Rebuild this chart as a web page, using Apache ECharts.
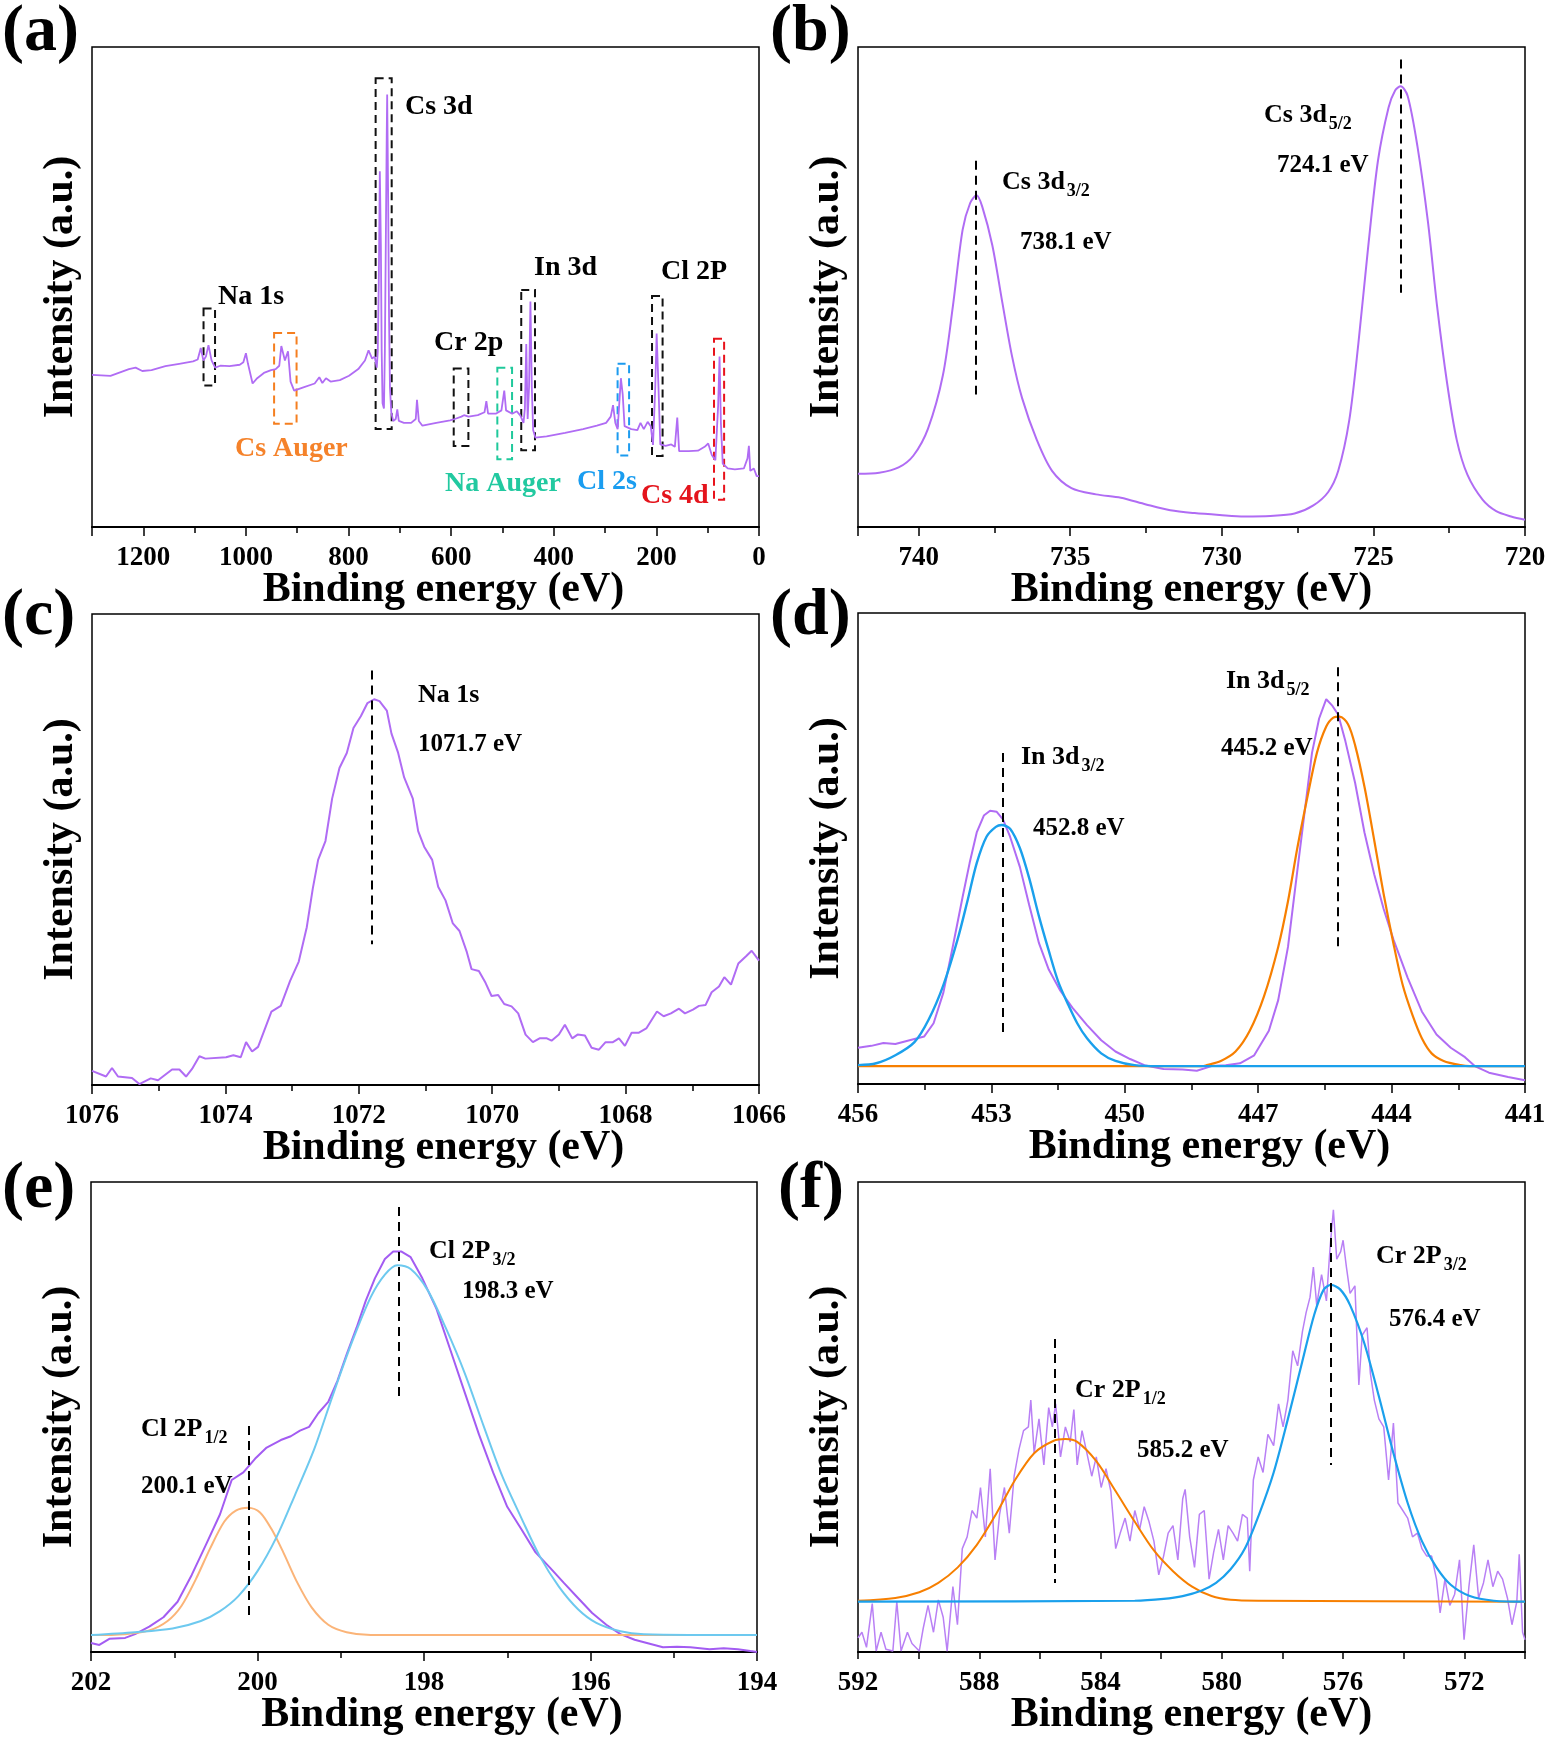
<!DOCTYPE html>
<html>
<head>
<meta charset="utf-8">
<script src="https://cdn.jsdelivr.net/npm/echarts@6/dist/echarts.min.js"></script>
<style>
  html, body { margin: 0; padding: 0; background: #fff; }
  #chart { width: 1550px; height: 1737px; }
</style>
</head>
<body>
<div id="chart"></div>
<script>
// ---- data: [binding energy (eV), intensity (% of frame height)] ----
const surveyA = [[1300,31.7],[1264,31.5],[1228,32.9],[1215,33.2],[1202,32.5],[1184,32.7],[1157,33.5],[1130,34.0],[1103,34.5],[1094,34.9],[1088,37.3],[1083,34.7],[1078,35.5],[1073,37.9],[1067,34.7],[1060,33.2],[1050,33.6],[1032,33.5],[1012,33.8],[1005,34.3],[1000,36.2],[996,34.0],[987,29.9],[978,31.0],[965,32.1],[951,32.7],[942,32.9],[935,33.6],[931,37.7],[924,34.7],[918,36.6],[913,30.3],[906,28.4],[888,29.1],[866,29.9],[857,31.2],[851,30.0],[844,31.0],[835,30.3],[817,30.6],[799,31.5],[781,32.9],[768,34.7],[761,36.8],[754,35.1],[749,35.5],[745,33.2],[743,36.6],[741,51.4],[739,74.1],[737,58.9],[735.4,36.6],[733.7,25.8],[731,24.7],[729.2,36.6],[727.4,58.9],[725.6,81.2],[724.7,90.1],[722.9,70.0],[721.1,44.0],[719.3,29.1],[716.7,23.9],[713,22.1],[708,22.5],[705,24.5],[702,22.1],[692,21.7],[678,21.7],[669,22.5],[666.6,26.5],[663,22.1],[656,21.1],[629,21.7],[602,22.2],[593,22.5],[580,23.0],[575,23.3],[566,23.0],[548,23.3],[535,23.9],[531.4,26.2],[528,23.6],[513,23.6],[502,24.3],[496.5,28.4],[493,24.3],[481,23.6],[472,24.1],[465,23.2],[459,21.7],[456.3,24.7],[453.6,38.1],[450.9,22.5],[448.2,29.1],[445.5,47.0],[442.8,29.1],[440.2,20.2],[435.7,18.6],[414,18.9],[378,19.6],[343,20.4],[316,21.1],[298,21.7],[289,23.0],[284.5,25.4],[280,21.7],[275.5,20.4],[269.2,31.0],[265.7,27.7],[262,21.0],[249,20.4],[237,20.2],[231,21.7],[224.5,20.4],[217,21.9],[211,21.0],[206.6,17.1],[202.2,29.1],[199.5,40.3],[195.9,29.1],[192.4,17.2],[182,16.9],[171,17.2],[164,16.7],[159.3,22.8],[155.7,15.8],[137,15.8],[119,15.9],[106,16.7],[99,17.4],[92,15.0],[85,13.9],[79.6,25.4],[76.9,35.5],[74.3,21.7],[70.7,13.2],[61,12.2],[47,12.0],[29.5,12.2],[22.4,14.3],[19.7,16.9],[17,11.7],[10,12.2],[4.5,10.6],[0,10.6]];

// survey boxes: [eV from, top, eV to, bottom]
const boxesA = [[1082.6,45.5,1060.2,29.5],[945.1,40.4,901.3,21.5],[747.2,93.5,715.9,20.4],[595.0,33.0,566.4,16.9],[510.0,33.2,481.3,14.1],[463.4,49.4,436.6,16.0],[275.6,34.0,253.2,14.9],[208.5,48.1,187.9,14.8],[87.7,39.2,68.0,5.7]];

const cs3dB = [[742,11.1],[741.3,11.3],[740.66,12.4],[740.17,14.9],[739.69,20.5],[739.2,31.6],[738.87,46.0],[738.55,61.9],[738.3,67.5],[738.09,69.1],[737.9,66.7],[737.57,58.7],[737.24,46.8],[736.92,35.6],[736.59,26.9],[736.1,18.1],[735.6,11.7],[734.96,8.1],[734.15,6.8],[733.33,6.1],[732.5,4.7],[731.7,3.5],[730.9,2.9],[730.07,2.5],[729.26,2.2],[728.4,2.3],[727.6,2.8],[726.98,4.5],[726.49,7.3],[726.16,11.7],[725.8,22.1],[725.5,38.0],[725.18,57.9],[724.85,76.3],[724.5,87.4],[724.28,91.0],[724.1,91.8],[723.87,89.8],[723.55,79.4],[723.2,63.5],[722.9,46.0],[722.57,30.0],[722.25,18.1],[721.9,10.9],[721.4,5.7],[720.95,3.3],[720.46,2.2],[720,1.5]];

const na1sC = [[1076,3.0],[1075.79,1.8],[1075.70,3.6],[1075.61,1.8],[1075.40,1.5],[1075.29,0.2],[1075.12,1.4],[1075.01,1.0],[1074.80,3.3],[1074.69,3.3],[1074.59,1.8],[1074.50,3.4],[1074.39,6.1],[1074.30,5.6],[1073.99,5.9],[1073.88,6.3],[1073.77,5.9],[1073.69,9.1],[1073.60,7.1],[1073.51,8.1],[1073.31,15.6],[1073.17,16.8],[1073.03,22.1],[1072.90,26.2],[1072.78,33.5],[1072.69,41.7],[1072.61,47.8],[1072.50,51.8],[1072.40,60.8],[1072.29,67.3],[1072.18,70.5],[1072.08,75.8],[1071.97,78.3],[1071.87,81.1],[1071.77,81.9],[1071.69,81.5],[1071.58,79.5],[1071.51,74.6],[1071.41,70.5],[1071.32,65.3],[1071.19,60.8],[1071.11,53.9],[1071.02,50.6],[1070.90,47.8],[1070.81,42.1],[1070.70,39.2],[1070.59,34.3],[1070.49,32.7],[1070.38,28.2],[1070.31,24.6],[1070.20,24.2],[1070.10,21.7],[1070.01,18.9],[1069.91,19.1],[1069.82,17.2],[1069.71,16.7],[1069.61,15.2],[1069.50,10.7],[1069.39,9.1],[1069.29,9.9],[1069.18,9.9],[1069.11,9.4],[1069.00,10.7],[1068.91,12.8],[1068.80,9.9],[1068.72,10.7],[1068.61,10.5],[1068.51,7.9],[1068.40,7.5],[1068.30,9.1],[1068.19,9.1],[1068.10,9.9],[1068.01,8.3],[1067.91,11.1],[1067.80,11.1],[1067.69,12.0],[1067.53,15.6],[1067.43,14.6],[1067.32,15.2],[1067.20,16.2],[1067.11,15.2],[1066.99,16.0],[1066.90,16.8],[1066.80,17.0],[1066.71,19.7],[1066.60,20.9],[1066.52,22.9],[1066.42,21.3],[1066.31,25.8],[1066.19,27.4],[1066.11,28.5],[1066.00,26.4]];

const in3dRawD = [[456,7.7],[455.70,8.1],[455.43,8.7],[455.16,8.5],[454.84,9.3],[454.51,10.1],[454.30,12.9],[454.08,19.4],[453.87,29.1],[453.65,39.6],[453.49,46.9],[453.33,53.4],[453.17,57.0],[453.03,58.0],[452.88,57.8],[452.74,56.2],[452.58,52.5],[452.36,46.1],[452.15,38.0],[451.93,29.9],[451.71,24.3],[451.45,19.8],[451.18,16.2],[450.85,12.5],[450.53,9.3],[450.21,6.9],[449.88,5.3],[449.56,4.0],[449.13,3.2],[448.70,3.1],[448.38,2.8],[448.05,3.8],[447.73,4.0],[447.41,4.4],[447.09,6.1],[446.76,11.3],[446.55,17.8],[446.33,29.1],[446.12,45.3],[445.95,58.2],[445.79,70.3],[445.63,77.6],[445.47,81.7],[445.34,80.4],[445.20,78.4],[445.04,72.8],[444.82,63.9],[444.61,53.4],[444.39,44.5],[444.18,37.2],[443.96,30.7],[443.64,22.6],[443.32,15.4],[442.99,10.5],[442.67,7.7],[442.35,5.7],[442.13,3.8],[441.81,2.4],[441.38,1.5],[441,0.8]];
const in3d32FitD = [[456,4.0],[455.59,4.4],[455.16,6.1],[454.73,8.9],[454.41,13.7],[454.08,21.0],[453.76,30.7],[453.54,38.8],[453.33,46.9],[453.11,52.5],[452.90,54.6],[452.77,55.0],[452.58,54.2],[452.36,50.1],[452.15,43.7],[451.93,35.6],[451.71,28.3],[451.50,21.8],[451.28,17.0],[451.07,12.9],[450.85,9.7],[450.53,6.5],[450.21,4.9],[449.78,4.0],[449.24,3.8],[441,3.8]];
const in3d52FitD = [[456,3.8],[448.27,3.8],[448.16,4.0],[447.84,4.9],[447.51,6.9],[447.19,11.3],[446.87,18.6],[446.55,29.1],[446.33,38.8],[446.12,50.1],[445.90,60.6],[445.68,70.3],[445.47,75.9],[445.31,77.8],[445.17,78.0],[444.98,76.4],[444.82,71.9],[444.61,63.1],[444.39,51.7],[444.18,40.4],[443.96,29.9],[443.75,21.0],[443.53,14.6],[443.32,9.7],[443.10,6.5],[442.83,4.9],[442.45,4.0],[442.24,3.8],[441,3.8]];

const cl2pRawE = [[202,1.9],[201.90,1.5],[201.78,2.8],[201.59,3.0],[201.47,3.8],[201.30,5.4],[201.13,7.4],[200.96,10.7],[200.79,16.4],[200.62,22.8],[200.45,29.3],[200.31,36.6],[200.17,38.2],[200.03,41.1],[199.89,43.5],[199.72,45.1],[199.60,45.9],[199.49,47.1],[199.38,47.9],[199.27,50.8],[199.15,53.2],[199.04,57.7],[198.93,63.3],[198.81,69.0],[198.70,74.7],[198.59,79.5],[198.47,83.6],[198.37,85.2],[198.27,85.2],[198.16,84.0],[198.02,79.5],[197.85,73.0],[197.68,64.1],[197.51,55.2],[197.34,46.3],[197.17,38.2],[197.00,30.9],[196.83,26.1],[196.66,21.2],[196.49,18.0],[196.32,14.7],[196.15,11.5],[195.98,8.3],[195.81,5.8],[195.64,3.8],[195.47,2.6],[195.30,1.8],[195.13,1.0],[194.96,1.1],[194.80,1.0],[194.57,0.6],[194.40,0.8],[194.23,0.6],[194.08,0.2],[194,0]];
const cl2p12FitE = [[202,3.6],[201.59,3.8],[201.30,4.6],[201.08,6.6],[200.91,9.9],[200.74,15.5],[200.57,22.0],[200.40,27.7],[200.26,30.1],[200.11,30.7],[199.97,29.7],[199.83,26.1],[199.69,21.2],[199.52,14.7],[199.35,9.5],[199.15,5.8],[198.93,4.2],[198.64,3.6],[194,3.6]];
const cl2p32FitE = [[202,3.6],[201.47,4.2],[201.02,5.0],[200.68,6.6],[200.45,8.7],[200.23,11.9],[200.00,17.2],[199.77,24.5],[199.55,33.4],[199.32,43.1],[199.10,54.4],[198.87,65.7],[198.64,75.5],[198.47,80.3],[198.32,82.3],[198.16,81.5],[197.96,77.1],[197.74,69.0],[197.51,59.3],[197.28,47.9],[197.06,37.4],[196.83,28.5],[196.61,20.4],[196.38,13.9],[196.15,9.1],[195.93,6.2],[195.64,4.4],[195.36,3.8],[194,3.6]];

const cr2pRawF = [[592,3.0],[591.87,4.2],[591.72,1.0],[591.53,10.3],[591.40,0.2],[591.24,4.2],[591.08,0.6],[590.85,0.2],[590.72,10.7],[590.58,0.2],[590.37,4.2],[590.22,1.8],[589.98,0.2],[589.85,5.0],[589.69,9.9],[589.51,4.2],[589.35,11.1],[589.19,7.4],[589.06,0.2],[588.87,13.9],[588.72,5.8],[588.56,22.0],[588.40,24.5],[588.24,30.1],[588.08,28.5],[587.96,35.0],[587.80,24.5],[587.64,39.0],[587.48,19.6],[587.33,29.3],[587.17,35.0],[587.01,25.3],[586.85,37.4],[586.69,43.1],[586.54,47.1],[586.38,47.9],[586.30,53.6],[586.19,42.3],[586.03,49.6],[585.87,39.8],[585.71,52.0],[585.59,47.9],[585.48,52.8],[585.32,41.5],[585.16,47.9],[585.00,44.7],[584.88,51.6],[584.77,39.8],[584.61,47.1],[584.45,42.3],[584.29,37.4],[584.14,41.5],[583.98,35.0],[583.82,39.0],[583.66,34.2],[583.50,22.0],[583.35,25.3],[583.19,28.5],[583.03,23.6],[582.87,30.1],[582.71,26.1],[582.56,30.9],[582.40,27.7],[582.24,23.6],[582.08,16.4],[581.92,20.4],[581.77,25.3],[581.61,26.9],[581.45,19.6],[581.29,32.6],[581.21,34.6],[581.06,24.5],[580.90,18.0],[580.74,29.3],[580.58,30.1],[580.42,15.5],[580.27,21.2],[580.11,26.1],[579.95,19.6],[579.79,26.9],[579.63,25.3],[579.48,23.6],[579.32,29.3],[579.16,28.5],[579.08,17.2],[578.96,36.6],[578.80,41.5],[578.64,38.2],[578.48,46.3],[578.29,43.9],[578.13,52.8],[577.98,47.9],[577.82,53.6],[577.66,64.1],[577.50,60.9],[577.34,68.2],[577.22,72.2],[577.09,75.5],[576.98,81.9],[576.87,73.8],[576.71,80.3],[576.55,74.7],[576.43,86.0],[576.32,94.1],[576.21,83.6],[576.08,85.2],[576.00,87.6],[575.89,81.9],[575.77,76.3],[575.61,77.9],[575.48,56.8],[575.37,67.4],[575.21,69.0],[575.10,59.3],[574.97,53.6],[574.82,49.6],[574.66,47.9],[574.50,36.6],[574.34,48.7],[574.19,31.7],[574.03,30.1],[573.87,28.5],[573.71,24.5],[573.55,25.3],[573.40,22.0],[573.24,20.4],[573.08,20.4],[572.92,15.5],[572.80,8.3],[572.64,15.5],[572.48,9.9],[572.32,12.3],[572.16,19.6],[572.01,2.6],[571.85,13.9],[571.69,22.8],[571.53,11.5],[571.37,14.7],[571.22,19.6],[571.06,13.9],[570.90,17.2],[570.74,15.5],[570.58,11.5],[570.43,5.8],[570.27,10.7],[570.19,20.8],[570.08,4.2],[570.00,2.6]];
const cr2p12FitF = [[592,10.9],[590.77,11.5],[589.98,12.7],[589.35,14.7],[588.71,18.0],[588.08,22.8],[587.45,29.3],[586.82,36.6],[586.19,42.3],[585.56,44.9],[585.16,45.3],[584.77,44.7],[584.14,40.6],[583.50,34.2],[582.87,27.7],[582.24,21.6],[581.61,17.2],[580.98,13.9],[580.34,11.9],[579.71,11.1],[578.77,10.9],[570,10.7]];
const cr2p32FitF = [[592,10.7],[582.87,10.9],[581.92,11.3],[581.29,11.9],[580.66,13.1],[580.19,14.7],[579.71,17.6],[579.24,22.0],[578.77,29.3],[578.29,38.2],[577.82,49.6],[577.35,61.7],[576.95,71.8],[576.64,77.1],[576.40,78.1],[576.09,77.1],[575.77,73.8],[575.30,65.7],[574.82,54.4],[574.34,42.3],[573.87,31.7],[573.40,23.6],[572.92,18.0],[572.45,14.3],[571.82,11.9],[571.03,10.9],[570,10.7]];

// dashed peak markers: [eV, top, bottom]
const peaksB = [[738.1,76.3,27.6],[724.1,97.4,48.8]];
const peaksC = [[1071.8,88.0,29.9]];
const peaksD = [[452.75,70.3,10.9],[445.2,88.5,28.7]];
const peaksE = [[198.3,94.7,53.8],[200.1,48.1,7.4]];
const peaksF = [[585.5,66.6,14.7],[576.4,91.3,39.8]];

// x axes: [min, max, tick step, minor ticks per step]
const axesX = [[0,1300,200,2],[720,742,5,2],[1066,1076,2,2],[441,456,3,2],[194,202,2,2],[570,592,2,1]];

const FONT = '"Liberation Serif","Times New Roman",serif';
const PURPLE = '#b06cf4';

const chart = echarts.init(document.getElementById('chart'), null, { renderer: 'canvas' });

const grids = [
  { left: 92, top: 47, width: 667, height: 480 },
  { left: 858, top: 47, width: 667, height: 480 },
  { left: 92, top: 614, width: 667, height: 471 },
  { left: 858, top: 613, width: 667, height: 471 },
  { left: 91, top: 1182, width: 666, height: 472 },
  { left: 858, top: 1182, width: 667, height: 472 }
];
const nameShift = [18, 0, 18, 18, 18, 0];

// panel (f) labels only every 4 eV, ticks every 2 eV
const labelEvery = [200, 5, 2, 3, 2, 4];

function isMult(v, s) {
  const q = v / s;
  return Math.abs(q - Math.round(q)) < 1e-6;
}

const xAxes = axesX.map((a, i) => ({
  type: 'value', gridIndex: i, min: a[0], max: a[1], interval: a[2], inverse: true,
  name: 'Binding energy (eV)', nameLocation: 'middle', nameGap: 42, nameMoveOverlap: false,
  nameTextStyle: { fontSize: 42, fontWeight: 'bold', fontFamily: FONT, color: '#000', padding: [0, 0, 0, nameShift[i] * 2] },
  axisLine: { onZero: false, lineStyle: { color: '#000', width: 2 } },
  axisTick: { length: a[3] > 1 ? 9 : 7, lineStyle: { color: '#000', width: 1.5 } },
  minorTick: { show: a[3] > 1, splitNumber: a[3], length: 6, lineStyle: { color: '#000', width: 1.5 } },
  axisLabel: {
    margin: 18, fontSize: 27, fontWeight: 'bold', fontFamily: FONT, color: '#000',
    hideOverlap: false,
    formatter: v => isMult(v, labelEvery[i]) ? String(Math.round(v)) : ''
  },
  splitLine: { show: false }, minorSplitLine: { show: false }
}));

const yAxes = grids.map((g, i) => ({
  type: 'value', gridIndex: i, min: 0, max: 100,
  name: 'Intensity (a.u.)', nameLocation: 'middle', nameGap: 10, nameRotate: 90,
  nameTextStyle: { fontSize: 42, fontWeight: 'bold', fontFamily: FONT, color: '#000' },
  axisLine: { show: false }, axisTick: { show: false }, axisLabel: { show: false },
  splitLine: { show: false }
}));

function peakLines(list) {
  return {
    silent: true, symbol: 'none', animation: false,
    lineStyle: { color: '#000', type: [9, 6], width: 2 },
    label: { show: false },
    data: list.map(p => [{ coord: [p[0], p[1]] }, { coord: [p[0], p[2]] }])
  };
}

function line(gi, data, color, width, extra) {
  return Object.assign({
    type: 'line', xAxisIndex: gi, yAxisIndex: gi, data: data,
    showSymbol: false, symbol: 'none', animation: false, silent: true,
    lineStyle: { color: color, width: width }, itemStyle: { color: color }
  }, extra || {});
}

const boxColors = ['#111', '#f57f20', '#111', '#111', '#1fc99b', '#111', '#1c9bef', '#111', '#e8131b'];

const series = [
  line(0, surveyA, PURPLE, 1.8, {
    markArea: {
      silent: true,
      data: boxesA.map((b, i) => [
        { coord: [b[0], b[1]], itemStyle: { color: 'rgba(0,0,0,0)', borderColor: boxColors[i], borderWidth: 2, borderType: [8, 5] } },
        { coord: [b[2], b[3]] }
      ])
    }
  }),
  line(1, cs3dB, PURPLE, 2, { smooth: 0.3, markLine: peakLines(peaksB) }),
  line(2, na1sC, PURPLE, 2, { markLine: peakLines(peaksC) }),
  line(3, in3dRawD, PURPLE, 2, { markLine: peakLines(peaksD) }),
  line(3, in3d52FitD, '#f77f00', 2.2, { smooth: 0.3 }),
  line(3, in3d32FitD, '#1aa0ec', 2.4, { smooth: 0.3 }),
  line(4, cl2pRawE, '#a35cf2', 2, { markLine: peakLines(peaksE) }),
  line(4, cl2p12FitE, '#fbb478', 2, { smooth: 0.3 }),
  line(4, cl2p32FitE, '#6dc9ef', 2, { smooth: 0.3 }),
  line(5, cr2pRawF, '#b980f5', 1.5, { markLine: peakLines(peaksF) }),
  line(5, cr2p12FitF, '#f77f00', 2, { smooth: 0.3 }),
  line(5, cr2p32FitF, '#1aa0ec', 2.2, { smooth: 0.3 })
];

const measureCtx = document.createElement('canvas').getContext('2d');
function textWidth(s, size) {
  measureCtx.font = 'bold ' + size + 'px ' + FONT;
  return measureCtx.measureText(s).width;
}

function txt(x, y, s, size, color) {
  return {
    type: 'text', x: x, y: y, z: 100, silent: true,
    style: { text: s, fontSize: size, fontWeight: 'bold', fontFamily: FONT, fill: color || '#000', verticalAlign: 'middle' }
  };
}

// label with a subscript right after it
function subLabel(x, y, base, sub) {
  return [txt(x, y, base, 26), txt(x + textWidth(base, 26) + 2, y + 9, sub, 18)];
}

const graphics = [
  txt(2, 33, '(a)', 66), txt(770, 33, '(b)', 66),
  txt(2, 617, '(c)', 66), txt(770, 617, '(d)', 66),
  txt(2, 1190, '(e)', 66), txt(778, 1190, '(f)', 66),
  // survey labels
  txt(405, 107, 'Cs 3d', 28), txt(218, 297, 'Na 1s', 28), txt(434, 343, 'Cr 2p', 28),
  txt(534, 268, 'In 3d', 28), txt(661, 272, 'Cl 2P', 28),
  txt(235, 449, 'Cs Auger', 28, '#f5822a'), txt(445, 484, 'Na Auger', 28, '#22c9a0'),
  txt(577, 482, 'Cl 2s', 28, '#1a9df0'), txt(641, 496, 'Cs 4d', 28, '#e4141c'),
  // (b)
  ...subLabel(1002, 182, 'Cs 3d', '3/2'), txt(1020, 243, '738.1 eV', 25),
  ...subLabel(1264, 115, 'Cs 3d', '5/2'), txt(1277, 166, '724.1 eV', 25),
  // (c)
  txt(418, 695, 'Na 1s', 26), txt(418, 745, '1071.7 eV', 25),
  // (d)
  ...subLabel(1021, 757, 'In 3d', '3/2'), txt(1033, 829, '452.8 eV', 25),
  ...subLabel(1226, 681, 'In 3d', '5/2'), txt(1221, 749, '445.2 eV', 25),
  // (e)
  ...subLabel(429, 1251, 'Cl 2P', '3/2'), txt(462, 1292, '198.3 eV', 25),
  ...subLabel(141, 1429, 'Cl 2P', '1/2'), txt(141, 1487, '200.1 eV', 25),
  // (f)
  ...subLabel(1376, 1256, 'Cr 2P', '3/2'), txt(1389, 1320, '576.4 eV', 25),
  ...subLabel(1075, 1390, 'Cr 2P', '1/2'), txt(1137, 1451, '585.2 eV', 25)
];

chart.setOption({
  animation: false,
  backgroundColor: '#fff',
  grid: grids.map(g => Object.assign({ show: true, borderColor: '#000', borderWidth: 1.5, backgroundColor: 'rgba(0,0,0,0)', containLabel: false }, g)),
  xAxis: xAxes,
  yAxis: yAxes,
  series: series,
  graphic: graphics
});
</script>
</body>
</html>
